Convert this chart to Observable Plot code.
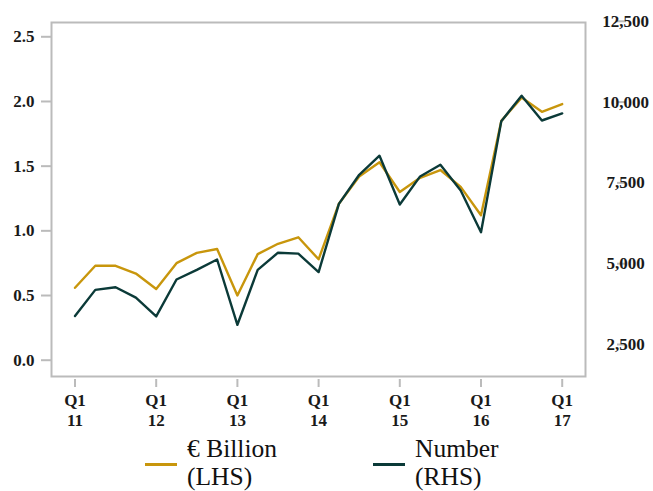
<!DOCTYPE html>
<html>
<head>
<meta charset="utf-8">
<script src="https://cdn.jsdelivr.net/npm/d3@7"></script>
<script src="https://cdn.jsdelivr.net/npm/@observablehq/plot@0.6"></script>
<style>
  body { margin: 0; background: #fff; font-family: "Liberation Serif", serif; }
  #wrap { position: relative; width: 653px; height: 491px; overflow: hidden; }
  #chart { position: absolute; left: 0; top: 0; }
  #chart svg text { font-family: "Liberation Serif", serif; font-weight: bold; }
  .sw { position: absolute; height: 3px; width: 32px; }
  .lab { position: absolute; font-size: 25.5px; line-height: 28px; height: 28px; color: #111; white-space: nowrap; }
</style>
</head>
<body>
<div id="wrap">
  <div id="chart"></div>
  <div class="sw" style="left:145px;top:463px;background:#c8960c"></div>
  <div class="lab" style="left:187px;top:434.5px">€ Billion</div>
  <div class="lab" style="left:187px;top:462.8px">(LHS)</div>
  <div class="sw" style="left:373px;top:463px;background:#0b3a38"></div>
  <div class="lab" style="left:415px;top:434.5px">Number</div>
  <div class="lab" style="left:415px;top:462.8px">(RHS)</div>
</div>
<script>
const quarters = [
  "Q1 11","Q2 11","Q3 11","Q4 11",
  "Q1 12","Q2 12","Q3 12","Q4 12",
  "Q1 13","Q2 13","Q3 13","Q4 13",
  "Q1 14","Q2 14","Q3 14","Q4 14",
  "Q1 15","Q2 15","Q3 15","Q4 15",
  "Q1 16","Q2 16","Q3 16","Q4 16",
  "Q1 17"
]
// € billion, left axis
const billion = [
  0.56, 0.73, 0.73, 0.67,
  0.55, 0.75, 0.83, 0.86,
  0.50, 0.82, 0.90, 0.95,
  0.78, 1.21, 1.42, 1.53,
  1.30, 1.41, 1.47, 1.34,
  1.12, 1.85, 2.03, 1.92,
  1.98
]
// number, right axis
const number = [
  3380, 4190, 4270, 3950,
  3370, 4510, 4810, 5130,
  3110, 4810, 5340, 5310,
  4740, 6850, 7750, 8340,
  6830, 7700, 8060, 7265,
  5975, 9410, 10195, 9430,
  9650
]
const leftTicks = [0, 0.5, 1, 1.5, 2, 2.5]
const rightTicks = [2500, 5000, 7500, 10000, 12500]

// right axis drawn on the left scale
const toLeft = n => 0.1214 + (n - 2500) * 0.00024986
const toRight = v => (v - 0.1214) / 0.00024986 + 2500

const rows = quarters.flatMap((q, i) => [
  {i, q, s: "bn", v: billion[i]},
  {i, q, s: "num", v: toLeft(number[i])}
])

const gold = "#c8960c", dark = "#0b3a38", grey = "#bbb"

const chart = Plot.plot({
  width: 653,
  height: 440,
  marginLeft: 51,
  marginRight: 68,
  marginTop: 22,
  marginBottom: 64,
  insetLeft: 23.5,
  insetRight: 23.3,
  insetTop: 14.3,
  insetBottom: 16.3,
  style: {fontFamily: "'Liberation Serif', serif", fontSize: "17px", background: "#fff"},
  x: {type: "linear", domain: [0, quarters.length - 1]},
  y: {domain: [0, 2.5]},
  marks: [
    Plot.frame({stroke: grey, strokeWidth: 2}),
    Plot.axisY(leftTicks, {
      anchor: "left", label: null, tickSize: 10, tickPadding: 7,
      stroke: grey, strokeWidth: 2, fill: "#1a1a1a", fontSize: 17,
      tickFormat: d3.format(".1f")
    }),
    Plot.axisY(rightTicks.map(toLeft), {
      anchor: "right", label: null, tickSize: 9, tickPadding: 0,
      stroke: grey, strokeWidth: 2, fill: "#1a1a1a", fontSize: 17,
      textAnchor: "middle", dx: 31,
      tickFormat: v => d3.format(",")(Math.round(toRight(v) / 100) * 100)
    }),
    Plot.axisX(quarters.map((q, i) => i).filter(i => quarters[i].startsWith("Q1")), {
      anchor: "bottom", label: null, tickSize: 8, tickPadding: 4, dy: 3,
      stroke: grey, strokeWidth: 2, fill: "#1a1a1a", fontSize: 17, lineHeight: 1.18,
      tickFormat: i => quarters[i].replace(" ", "\n")
    }),
    Plot.line(rows, {x: "i", y: "v", z: "s", stroke: d => d.s == "bn" ? gold : dark, strokeWidth: 2.4})
  ]
})
document.getElementById("chart").append(chart)
</script>
</body>
</html>
